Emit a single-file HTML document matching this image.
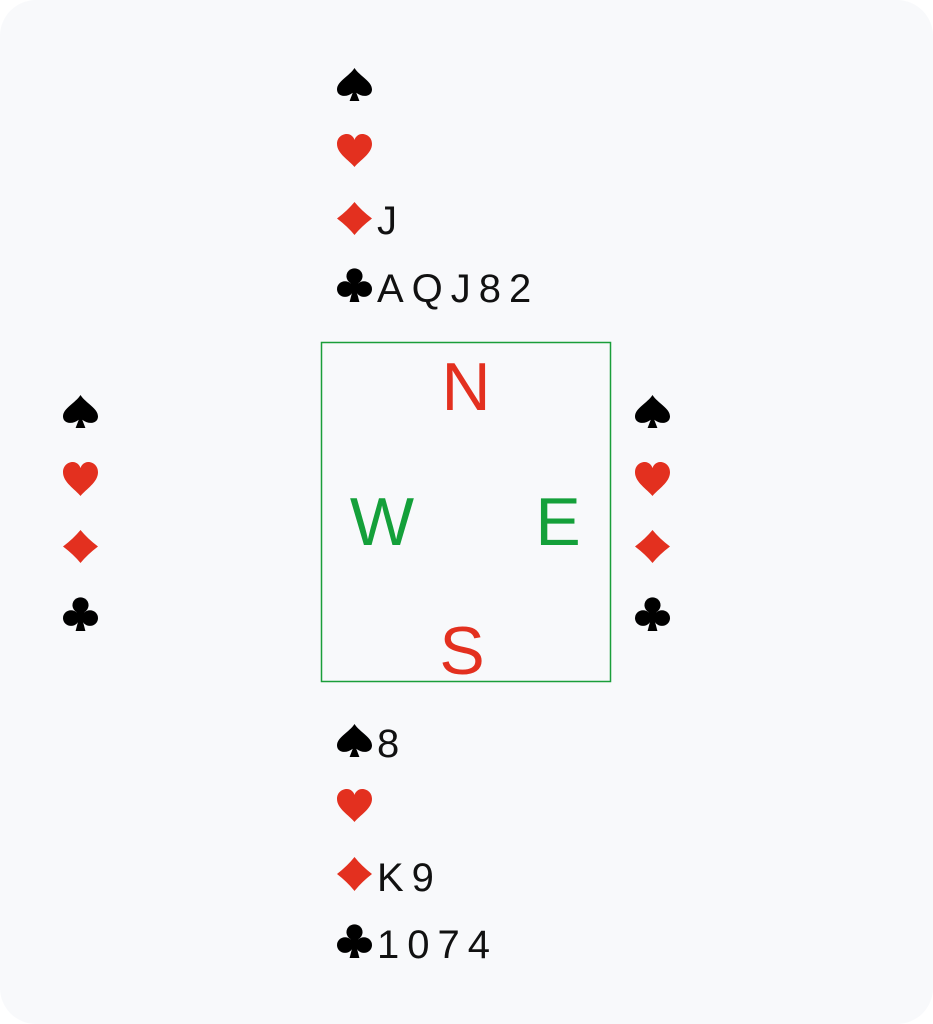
<!DOCTYPE html>
<html><head><meta charset="utf-8"><style>
html,body{margin:0;padding:0;background:#fff;}
.card{position:absolute;left:0;top:0;width:933px;height:1024px;background:#f8f9fb;border-radius:36px;}
svg{position:absolute;left:0;top:0;}
.t{font-family:"Liberation Sans",sans-serif;font-size:40px;letter-spacing:8px;fill:#111;}
.r{fill:#e3301f;}
.k{fill:#000;}
.d{font-family:"Liberation Sans",sans-serif;font-size:68px;}
</style></head><body>
<div class="card"></div>
<svg width="933" height="1024" viewBox="0 0 933 1024">
<defs>
<g id="sp"><path d="M50 0 C35 25 0 40 0 65 C0 85 25 92 45 75 L36 100 H64 L55 75 C75 92 100 85 100 65 C100 40 65 25 50 0Z"/></g>
<g id="he"><path d="M50 100 C35 80 0 60 0 30 C0 10 15 0 28 0 C40 0 48 10 50 18 C52 10 60 0 72 0 C85 0 100 10 100 30 C100 60 65 80 50 100Z"/></g>
<g id="di"><path d="M50 0 Q70 26 100 50 Q70 74 50 100 Q30 74 0 50 Q30 26 50 0Z"/></g>
<g id="cl"><circle cx="50" cy="24" r="23"/><circle cx="23" cy="62" r="23"/><circle cx="77" cy="62" r="23"/><circle cx="50" cy="55" r="15"/><path d="M46 60 L36 100 H64 L54 60Z"/></g>
</defs>
<!-- North -->
<use href="#sp" class="k" transform="translate(337,68) scale(0.35,0.33)"/>
<use href="#he" class="r" transform="translate(337,134) scale(0.35,0.33)"/>
<use href="#di" class="r" transform="translate(337,202) scale(0.35,0.33)"/>
<text class="t" x="377" y="234">J</text>
<use href="#cl" class="k" transform="translate(337,268) scale(0.35,0.34)"/>
<text class="t" x="377" y="302">AQJ82</text>
<!-- West -->
<use href="#sp" class="k" transform="translate(63,395) scale(0.35,0.33)"/>
<use href="#he" class="r" transform="translate(63,462) scale(0.35,0.34)"/>
<use href="#di" class="r" transform="translate(63,530) scale(0.35,0.33)"/>
<use href="#cl" class="k" transform="translate(63,597) scale(0.35,0.34)"/>
<!-- East -->
<use href="#sp" class="k" transform="translate(635,395) scale(0.35,0.33)"/>
<use href="#he" class="r" transform="translate(635,462) scale(0.35,0.34)"/>
<use href="#di" class="r" transform="translate(635,530) scale(0.35,0.33)"/>
<use href="#cl" class="k" transform="translate(635,597) scale(0.35,0.34)"/>
<!-- South -->
<use href="#sp" class="k" transform="translate(337,724) scale(0.35,0.33)"/>
<text class="t" x="377" y="757">8</text>
<use href="#he" class="r" transform="translate(337,789) scale(0.35,0.33)"/>
<use href="#di" class="r" transform="translate(337,857) scale(0.35,0.34)"/>
<text class="t" x="377" y="891">K9</text>
<use href="#cl" class="k" transform="translate(337,924) scale(0.35,0.34)"/>
<text class="t" x="377" y="958">1074</text>
<!-- Box -->
<rect x="321.5" y="342.5" width="289" height="339" fill="none" stroke="#1a9e3a" stroke-width="1.5"/>
<text class="d r" x="466" y="410" text-anchor="middle">N</text>
<text class="d r" x="462" y="674" text-anchor="middle">S</text>
<text class="d" x="382" y="545" text-anchor="middle" fill="#14a03a">W</text>
<text class="d" x="558" y="545" text-anchor="middle" fill="#14a03a">E</text>
</svg>
</body></html>
